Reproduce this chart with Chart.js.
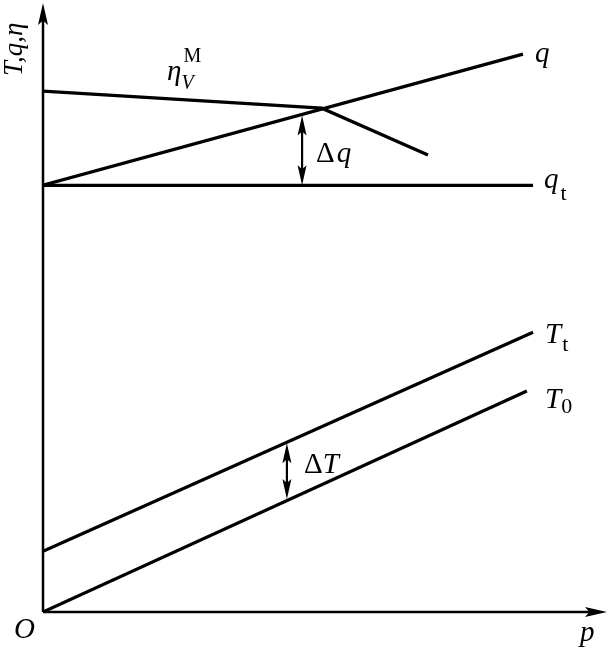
<!DOCTYPE html>
<html>
<head>
<meta charset="utf-8">
<script src="https://cdn.jsdelivr.net/npm/chart.js@4"></script>
<style>
html, body { margin: 0; padding: 0; background: #fff; }
#wrap { width: 608px; height: 649px; }
</style>
</head>
<body>
<div id="wrap"><canvas id="myChart"></canvas></div>
<script>
// p on x, T/q/eta on y (schematic units, 0..10)
var qX = [0, 8.54];
var qY = [7.03, 9.19];
var etaX = [0, 4.96, 6.85];
var etaY = [8.58, 8.30, 7.53];
var qtX = [0, 8.72];
var qtY = [7.03, 7.03];
var TtX = [0, 8.72];
var TtY = [1.00, 4.61];
var T0X = [0, 8.61];
var T0Y = [0, 3.64];

// double arrows: x, y from, y to
var dqArrow = [4.61, 7.03, 8.18];
var dTArrow = [4.34, 1.86, 2.78];

function pts(xs, ys) {
  return xs.map(function (x, i) { return { x: x, y: ys[i] }; });
}

function lineSet(xs, ys) {
  return {
    data: pts(xs, ys),
    borderColor: '#000',
    borderWidth: 3.2,
    pointRadius: 0,
    tension: 0,
    fill: false
  };
}

var serif = '"Liberation Serif", "DejaVu Serif", serif';

function arrowHead(ctx, x, y, dir, len, half) {
  // dir: 'up', 'down', 'right'
  ctx.beginPath();
  if (dir === 'up') {
    ctx.moveTo(x, y);
    ctx.lineTo(x - half, y + len);
    ctx.lineTo(x, y + len * 0.8);
    ctx.lineTo(x + half, y + len);
  } else if (dir === 'down') {
    ctx.moveTo(x, y);
    ctx.lineTo(x - half, y - len);
    ctx.lineTo(x, y - len * 0.8);
    ctx.lineTo(x + half, y - len);
  } else {
    ctx.moveTo(x, y);
    ctx.lineTo(x - len, y - half);
    ctx.lineTo(x - len * 0.8, y);
    ctx.lineTo(x - len, y + half);
  }
  ctx.closePath();
  ctx.fill();
}

function text(ctx, s, x, y, size, italic) {
  ctx.font = (italic ? 'italic ' : '') + size + 'px ' + serif;
  ctx.fillText(s, x, y);
  return ctx.measureText(s).width;
}

var decor = {
  id: 'decor',
  afterDatasetsDraw: function (chart) {
    var ctx = chart.ctx;
    var xs = chart.scales.x, ys = chart.scales.y;
    var ox = xs.getPixelForValue(0), oy = ys.getPixelForValue(0);
    ctx.save();
    ctx.strokeStyle = '#000';
    ctx.fillStyle = '#000';
    ctx.textAlign = 'left';
    ctx.textBaseline = 'alphabetic';

    // axes
    ctx.lineWidth = 2.5;
    ctx.beginPath();
    ctx.moveTo(ox, oy);
    ctx.lineTo(ox, chart.chartArea.top + 6);
    ctx.moveTo(ox, oy);
    ctx.lineTo(chart.chartArea.right - 6, oy);
    ctx.stroke();
    arrowHead(ctx, ox, chart.chartArea.top - 2, 'up', 22, 5);
    arrowHead(ctx, chart.chartArea.right + 2, oy, 'right', 22, 5);

    // delta arrows
    [dqArrow, dTArrow].forEach(function (a) {
      var x = xs.getPixelForValue(a[0]);
      var y1 = ys.getPixelForValue(a[1]);
      var y2 = ys.getPixelForValue(a[2]);
      ctx.lineWidth = 2.2;
      ctx.beginPath();
      ctx.moveTo(x, y1 - 8);
      ctx.lineTo(x, y2 + 8);
      ctx.stroke();
      arrowHead(ctx, x, y2, 'up', 20, 4.5);
      arrowHead(ctx, x, y1, 'down', 20, 4.5);
    });

    // labels
    var w;
    text(ctx, 'q', 535, 62, 29, true);
    w = text(ctx, 'q', 544, 188, 29, true);
    text(ctx, 't', 544 + w + 2, 200, 22, false);
    w = text(ctx, 'T', 545, 343, 29, true);
    text(ctx, 't', 545 + w + 1, 351, 22, false);
    w = text(ctx, 'T', 545, 408, 29, true);
    text(ctx, '0', 545 + w, 413, 22, false);

    w = text(ctx, 'η', 167, 80, 29, true);
    text(ctx, 'M', 167 + w + 2, 62, 20, false);
    text(ctx, 'V', 167 + w, 89, 20, true);

    w = text(ctx, 'Δ', 316, 162, 29, false);
    text(ctx, 'q', 316 + w + 2, 162, 29, true);
    w = text(ctx, 'Δ', 304, 473, 29, false);
    text(ctx, 'T', 304 + w, 473, 29, true);

    text(ctx, 'O', 14, 638, 29, true);
    text(ctx, 'p', 580, 641, 29, true);

    // rotated y title
    ctx.translate(22, 76);
    ctx.rotate(-Math.PI / 2);
    text(ctx, 'T,q,η', 0, 0, 27, true);
    ctx.restore();
  }
};

var ctx = document.getElementById('myChart').getContext('2d');

var graphData = {
  type: 'line',
  data: {
    datasets: [
      lineSet(qX, qY),
      lineSet(etaX, etaY),
      lineSet(qtX, qtY),
      lineSet(TtX, TtY),
      lineSet(T0X, T0Y)
    ]
  },
  options: {
    responsive: true,
    maintainAspectRatio: false,
    animation: false,
    layout: { padding: { left: 43, right: 3, top: 5, bottom: 37 } },
    plugins: { legend: { display: false }, tooltip: { enabled: false } },
    scales: {
      x: { type: 'linear', display: false, min: 0, max: 10 },
      y: { type: 'linear', display: false, min: 0, max: 10 }
    }
  },
  plugins: [decor]
};

var myChart = new Chart(ctx, graphData);
</script>
</body>
</html>
